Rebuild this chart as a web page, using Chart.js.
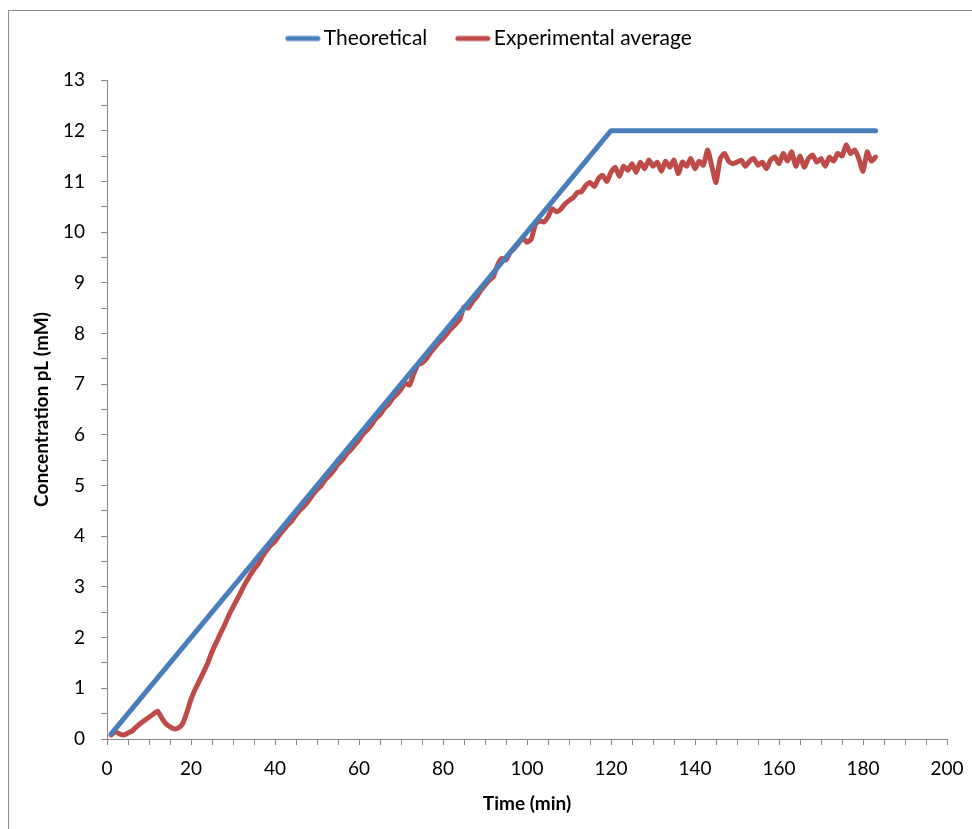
<!DOCTYPE html>
<html>
<head>
<meta charset="utf-8">
<script src="https://cdn.jsdelivr.net/npm/chart.js@4.4.1/dist/chart.umd.min.js"></script>
<style>
  body { margin: 0; background: #fff; }
  #wrap { position: relative; width: 972px; height: 829px; overflow: hidden; }
  #frame { position: absolute; left: 8px; top: 10px; width: 1000px; height: 900px;
           border-left: 1px solid #8c8c8c; border-top: 1px solid #8c8c8c; }
  #chart { position: absolute; left: 0; top: 0; }
</style>
</head>
<body>
<div id="wrap">
  <div id="frame"></div>
  <canvas id="chart" width="972" height="829"></canvas>
</div>
<script>
// theoretical feed: 0.1 mM/min up to 120 min, then flat
var theoTime = [1, 120, 183];
var theoConc = [0.1, 12, 12];

// experimental average, one reading per minute
var expTime = [];
for (var t = 1; t <= 183; t++) { expTime.push(t); }
var expConc = [
  0.08, 0.14, 0.10, 0.08, 0.12, 0.16, 0.24, 0.31, 0.37, 0.43,
  0.49, 0.55, 0.42, 0.30, 0.24, 0.20, 0.22, 0.30, 0.52, 0.78,
  0.98, 1.15, 1.32, 1.50, 1.72, 1.90, 2.08, 2.25, 2.44, 2.60,
  2.76, 2.92, 3.08, 3.22, 3.35, 3.45, 3.60, 3.72, 3.82, 3.90,
  4.02, 4.12, 4.22, 4.30, 4.42, 4.52, 4.60, 4.70, 4.82, 4.92,
  5.00, 5.12, 5.20, 5.30, 5.42, 5.50, 5.62, 5.70, 5.80, 5.90,
  6.02, 6.10, 6.20, 6.32, 6.40, 6.52, 6.60, 6.72, 6.80, 6.90,
  7.02, 6.98, 7.20, 7.38, 7.42, 7.50, 7.62, 7.72, 7.82, 7.90,
  8.00, 8.10, 8.18, 8.28, 8.52, 8.50, 8.62, 8.72, 8.85, 8.95,
  9.05, 9.12, 9.35, 9.48, 9.45, 9.60, 9.68, 9.78, 9.88, 9.80,
  9.86, 10.15, 10.22, 10.20, 10.30, 10.46, 10.40, 10.45, 10.55, 10.62,
  10.68, 10.78, 10.80, 10.92, 10.98, 10.90, 11.05, 11.12, 11.00, 11.18,
  11.28, 11.10, 11.30, 11.22, 11.35, 11.18, 11.38, 11.25, 11.42, 11.30,
  11.38, 11.20, 11.40, 11.28, 11.42, 11.15, 11.38, 11.30, 11.45, 11.25,
  11.40, 11.32, 11.62, 11.30, 10.98, 11.45, 11.55, 11.40, 11.35, 11.38,
  11.42, 11.30, 11.40, 11.45, 11.32, 11.38, 11.25, 11.42, 11.48, 11.35,
  11.55, 11.40, 11.58, 11.30, 11.50, 11.28, 11.45, 11.52, 11.38, 11.45,
  11.30, 11.48, 11.40, 11.55, 11.50, 11.72, 11.55, 11.62, 11.45, 11.20,
  11.58, 11.40, 11.48
];

var seriesNames = ['Theoretical', 'Experimental average'];
var seriesColors = ['#4a7ebb', '#be4b48'];

function toPoints(xs, ys) {
  var pts = [];
  for (var i = 0; i < xs.length; i++) {
    pts.push({ x: xs[i], y: ys[i] });
  }
  return pts;
}

// legend swatch: a short thick line that sits close to the text
function legendLine(color) {
  var c = document.createElement('canvas');
  c.width = 43;
  c.height = 8;
  var g = c.getContext('2d');
  g.strokeStyle = color;
  g.lineWidth = 5;
  g.lineCap = 'round';
  g.beginPath();
  g.moveTo(10, 4);
  g.lineTo(40, 4);
  g.stroke();
  return c;
}

var axisGray = '#868686';
var fontFam = 'Lato, "Open Sans", sans-serif';

// push the plot area down a bit under the legend
var legendGap = {
  id: 'legendGap',
  beforeInit: function(chart) {
    var fit = chart.legend.fit;
    chart.legend.fit = function() {
      fit.bind(chart.legend)();
      this.height += 21;
    };
  }
};

var ctx = document.getElementById('chart');
var chart = new Chart(ctx, {
  type: 'line',
  data: {
    datasets: [
      {
        label: seriesNames[0],
        data: toPoints(theoTime, theoConc),
        borderColor: seriesColors[0],
        backgroundColor: seriesColors[0],
        borderWidth: 5,
        borderCapStyle: 'round',
        borderJoinStyle: 'round',
        pointRadius: 0,
        pointStyle: legendLine(seriesColors[0]),
        tension: 0
      },
      {
        label: seriesNames[1],
        data: toPoints(expTime, expConc),
        borderColor: seriesColors[1],
        backgroundColor: seriesColors[1],
        borderWidth: 5,
        borderCapStyle: 'round',
        borderJoinStyle: 'round',
        pointRadius: 0,
        pointStyle: legendLine(seriesColors[1]),
        tension: 0.2
      }
    ]
  },
  plugins: [legendGap],
  options: {
    responsive: false,
    animation: false,
    layout: { padding: { left: 30, right: 25, top: 0, bottom: 14 } },
    plugins: {
      tooltip: { enabled: false },
      legend: {
        position: 'top',
        labels: {
          usePointStyle: true,
          pointStyleWidth: 28,
          padding: 28,
          color: '#000',
          font: { family: fontFam, size: 21 }
        }
      }
    },
    scales: {
      x: {
        type: 'linear',
        min: 0,
        max: 200,
        afterFit: function(scale) {
          scale.height = 76;
          scale.paddingRight = 0;
        },
        border: { color: axisGray, width: 1 },
        grid: { drawOnChartArea: false, drawTicks: true, tickLength: 6, color: axisGray },
        ticks: {
          stepSize: 5,
          autoSkip: false,
          maxRotation: 0,
          padding: 12,
          color: '#000',
          font: { family: fontFam, size: 19 },
          callback: function(v) { return v % 20 === 0 ? v : ''; }
        },
        title: {
          display: true,
          text: 'Time (min)',
          color: '#000',
          font: { family: fontFam, size: 19, weight: 'bold' },
          padding: { top: 0, bottom: 0 }
        }
      },
      y: {
        min: 0,
        max: 13,
        afterFit: function(scale) { scale.width = 77; },
        border: { color: axisGray, width: 1 },
        grid: { drawOnChartArea: false, drawTicks: true, tickLength: 6, color: axisGray },
        ticks: {
          stepSize: 0.5,
          autoSkip: false,
          padding: 16,
          color: '#000',
          font: { family: fontFam, size: 19 },
          callback: function(v) { return v % 1 === 0 ? v : ''; }
        },
        title: {
          display: true,
          text: 'Concentration pL (mM)',
          color: '#000',
          font: { family: fontFam, size: 19, weight: 'bold' },
          padding: { top: 0, bottom: 0 }
        }
      }
    }
  }
});
</script>
</body>
</html>
